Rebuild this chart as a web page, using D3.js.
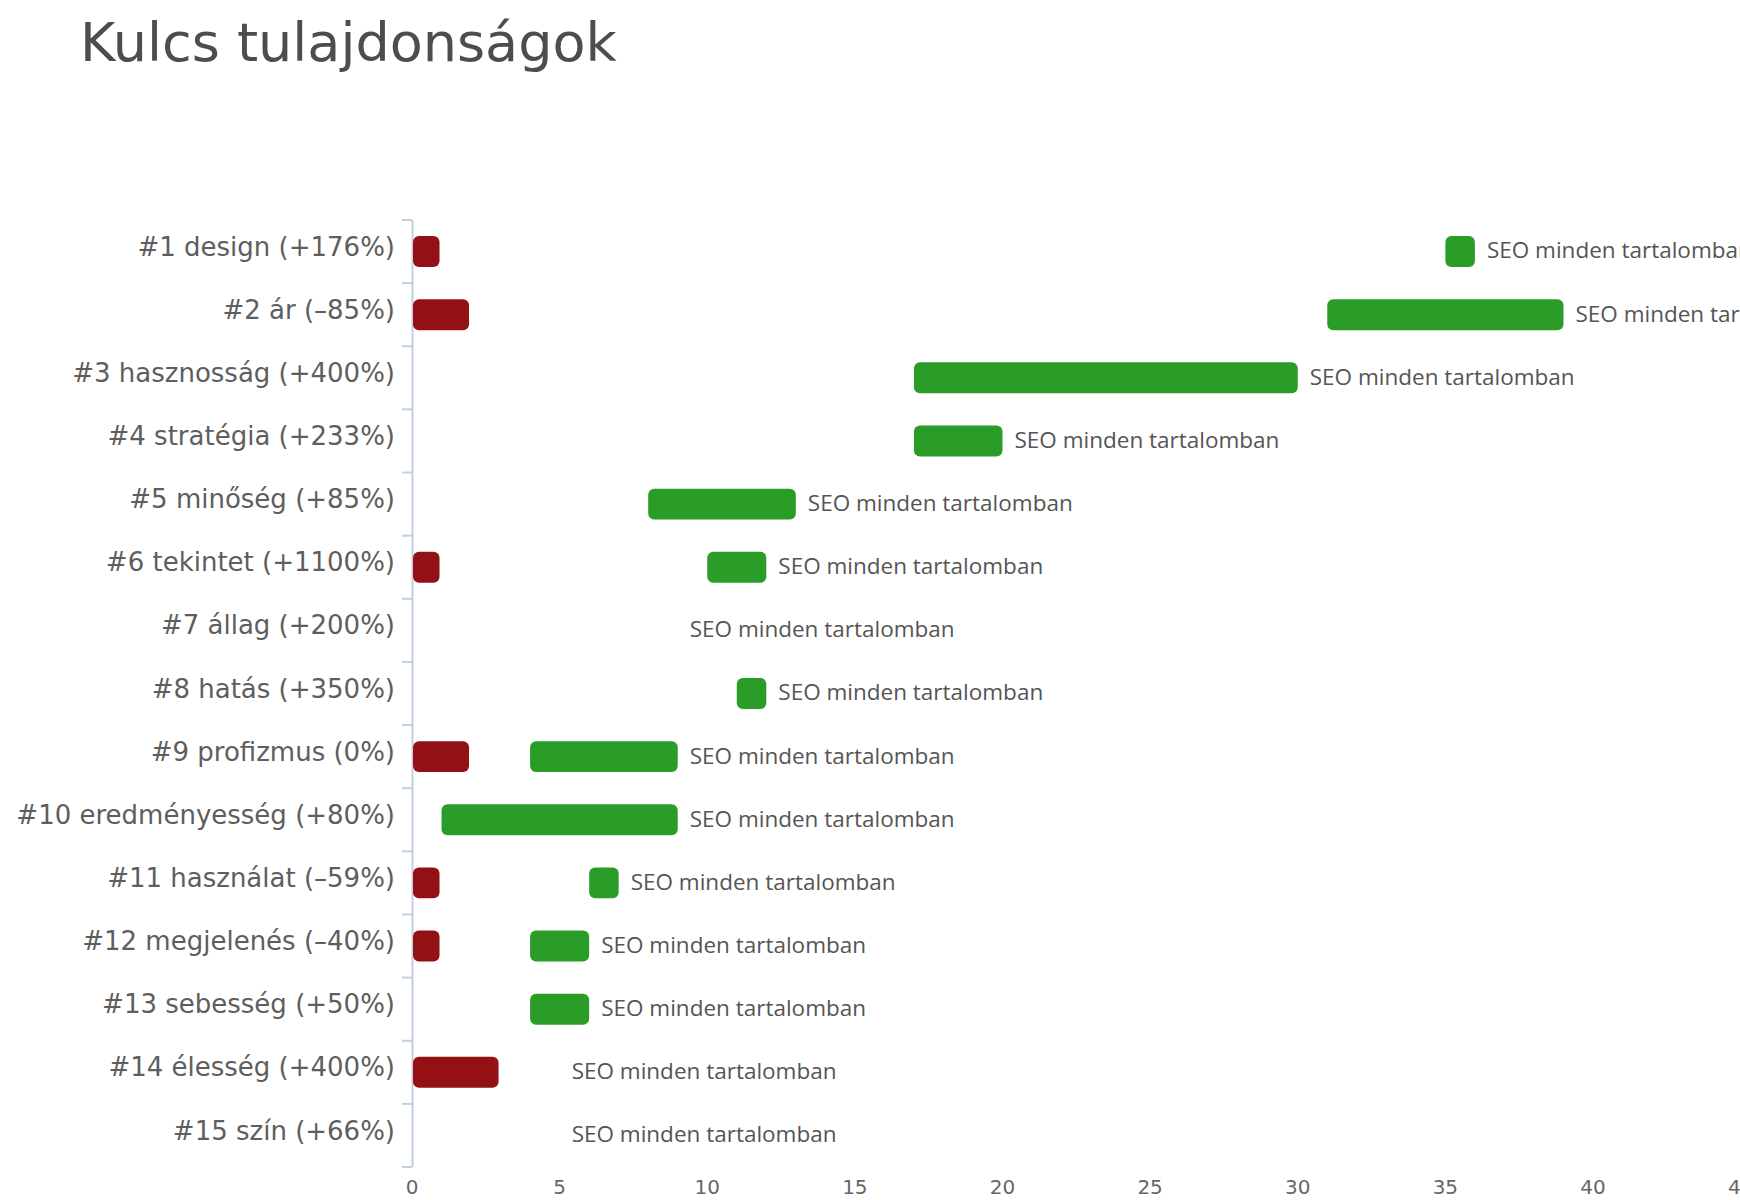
<!DOCTYPE html>
<html>
<head>
<meta charset="utf-8">
<script src="https://cdnjs.cloudflare.com/ajax/libs/d3/7.8.5/d3.min.js"></script>
<style>
  html, body { margin: 0; padding: 0; background: #fff; overflow: hidden; }
</style>
</head>
<body>
<div id="chart"></div>
<script>
var categories = ['#1 design (+176%)', '#2 ár (–85%)', '#3 hasznosság (+400%)', '#4 stratégia (+233%)',
  '#5 minőség (+85%)', '#6 tekintet (+1100%)', '#7 állag (+200%)', '#8 hatás (+350%)',
  '#9 profizmus (0%)', '#10 eredményesség (+80%)', '#11 használat (–59%)', '#12 megjelenés (–40%)',
  '#13 sebesség (+50%)', '#14 élesség (+400%)', '#15 szín (+66%)']
var redValues = [1, 2, 0, 0, 0, 1, 0, 0, 2, 0, 1, 1, 0, 3, 0]
var greenStart = [35, 31, 17, 17, 8, 10, 9, 11, 4, 1, 6, 4, 4, 5, 5]
var greenEnd = [36, 39, 30, 20, 13, 12, 9, 12, 9, 9, 7, 6, 6, 5, 5]
var greenLabel = 'SEO minden tartalomban'
var xTicks = [0, 5, 10, 15, 20, 25, 30, 35, 40, 45]
var chartTitle = 'Kulcs tulajdonságok'

var W = 1740, H = 1200
var marginL = 412, marginT = 220, plotH = 947
var svg = d3.select('#chart').append('svg').attr('width', W).attr('height', H)

svg.append('text')
  .attr('x', 80).attr('y', 61)
  .attr('font-family', 'DejaVu Sans')
  .attr('font-size', 54)
  .attr('fill', '#4d4d4d')
  .text(chartTitle)

var x = d3.scaleLinear().domain([0, 45]).range([marginL, marginL + 29.525 * 45])
var y = d3.scaleBand().domain(categories).range([marginT, marginT + plotH]).paddingInner(0.51).paddingOuter(0.255)
var step = y.step()

// left axis line and category ticks
var g = svg.append('g')
g.append('line')
  .attr('x1', marginL + 0.5).attr('x2', marginL + 0.5)
  .attr('y1', marginT).attr('y2', marginT + plotH)
  .attr('stroke', '#c0d0e0').attr('stroke-width', 2)
g.selectAll('.tick').data(d3.range(categories.length + 1)).enter().append('line')
  .attr('x1', marginL - 10).attr('x2', marginL)
  .attr('y1', function(d) { return marginT + d * step })
  .attr('y2', function(d) { return marginT + d * step })
  .attr('stroke', '#c0d0e0').attr('stroke-width', 2)

g.selectAll('.cat').data(categories).enter().append('text')
  .attr('x', marginL - 17)
  .attr('y', function(d) { return y(d) + y.bandwidth() / 2 - 5 })
  .attr('dy', '0.35em')
  .attr('text-anchor', 'end')
  .attr('font-family', 'DejaVu Sans')
  .attr('font-size', 26)
  .attr('fill', '#5e5e5e')
  .text(function(d) { return d })

// x axis labels
svg.append('g').selectAll('text').data(xTicks).enter().append('text')
  .attr('x', function(d) { return x(d) })
  .attr('y', 1194)
  .attr('text-anchor', 'middle')
  .attr('font-family', 'DejaVu Sans')
  .attr('font-size', 20)
  .attr('fill', '#666')
  .text(function(d) { return d })

// red bars, from zero
var reds = svg.append('g')
redValues.forEach(function(v, i) {
  if (v <= 0) return
  reds.append('rect')
    .attr('x', x(0) + 1)
    .attr('y', y(categories[i]))
    .attr('width', x(v) - x(0) - 3)
    .attr('height', y.bandwidth())
    .attr('rx', 6).attr('ry', 6)
    .attr('fill', '#931114')
})

// green floating bars with labels
var greens = svg.append('g')
greenStart.forEach(function(s, i) {
  var e = greenEnd[i]
  if (e > s) {
    greens.append('rect')
      .attr('x', x(s))
      .attr('y', y(categories[i]))
      .attr('width', x(e) - x(s))
      .attr('height', y.bandwidth())
      .attr('rx', 6).attr('ry', 6)
      .attr('fill', '#2a9c28')
  }
  greens.append('text')
    .attr('x', x(e) + 12)
    .attr('y', y(categories[i]) + y.bandwidth() / 2 - 1)
    .attr('dy', '0.35em')
    .attr('font-family', 'Open Sans')
    .attr('font-size', 22.5)
    .attr('fill', '#555')
    .text(greenLabel)
})
</script>
</body>
</html>
